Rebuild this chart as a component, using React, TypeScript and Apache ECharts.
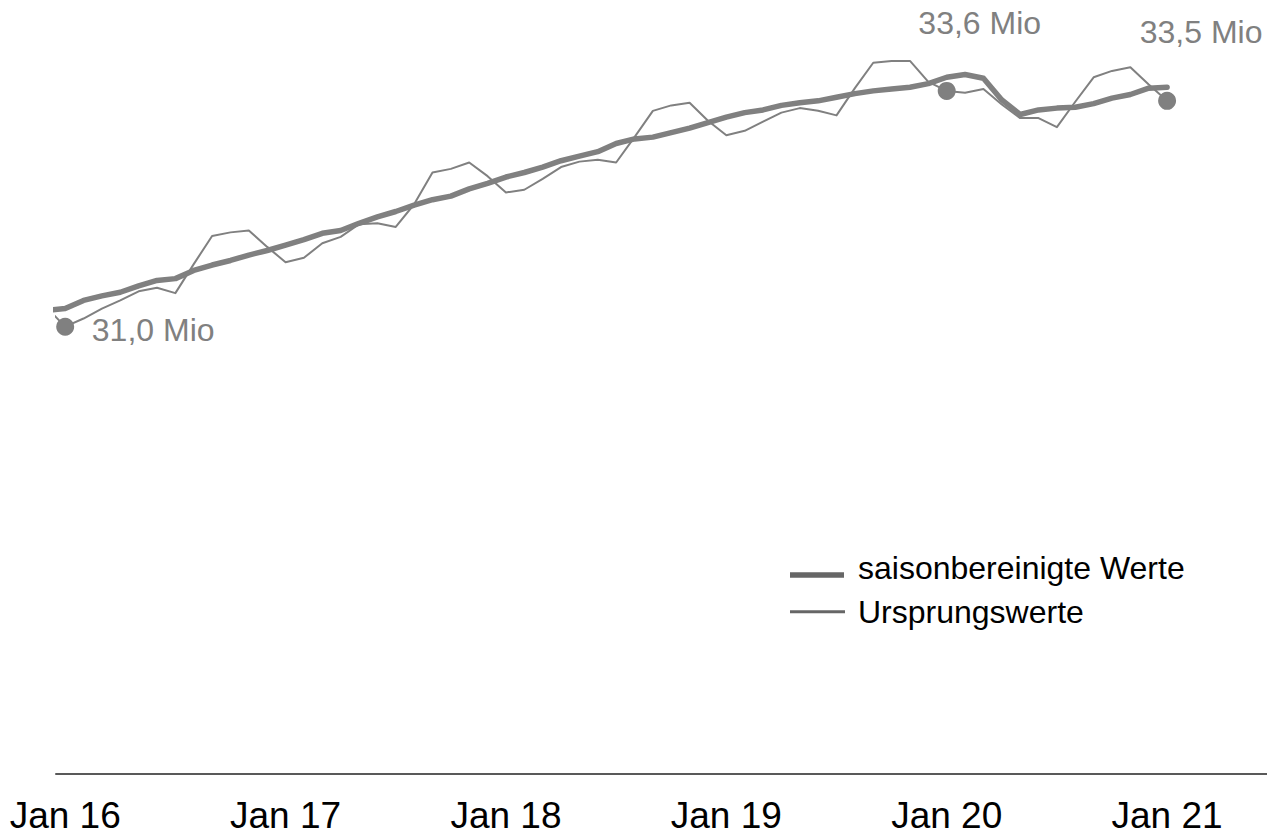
import React, { useEffect, useRef } from "react";
import * as echarts from "echarts";

// Monthly values, Dez 15 .. Jan 21 (Mio)
const monthNames = ["Jan", "Feb", "Mrz", "Apr", "Mai", "Jun", "Jul", "Aug", "Sep", "Okt", "Nov", "Dez"];
const categories: string[] = ["Dez 15"];
for (let y = 16; y <= 21; y++) {
  for (let m = 0; m < 12; m++) {
    if (y === 21 && m > 0) break;
    categories.push(monthNames[m] + " " + y);
  }
}

const saisonbereinigt = [
  31.18,
  31.2, 31.29, 31.34, 31.38, 31.45, 31.51, 31.53, 31.62, 31.68, 31.73, 31.79, 31.84,
  31.9, 31.96, 32.03, 32.06, 32.14, 32.21, 32.27, 32.34, 32.4, 32.44, 32.52, 32.58,
  32.65, 32.7, 32.76, 32.83, 32.88, 32.93, 33.02, 33.07, 33.09, 33.14, 33.19, 33.25,
  33.31, 33.36, 33.39, 33.44, 33.47, 33.49, 33.53, 33.57, 33.6, 33.62, 33.64, 33.68,
  33.75, 33.78, 33.74, 33.5, 33.34, 33.39, 33.41, 33.42, 33.46, 33.52, 33.56, 33.63,
  33.64,
];

const ursprungswerte = [
  31.21,
  31.0, 31.09, 31.2, 31.29, 31.39, 31.43, 31.37, 31.69, 32.0, 32.04, 32.06, 31.88,
  31.71, 31.76, 31.92, 31.99, 32.13, 32.14, 32.1, 32.35, 32.7, 32.74, 32.81, 32.66,
  32.48, 32.51, 32.63, 32.76, 32.82, 32.84, 32.81, 33.09, 33.38, 33.44, 33.47, 33.27,
  33.11, 33.16, 33.26, 33.36, 33.41, 33.38, 33.33, 33.63, 33.91, 33.93, 33.93, 33.7,
  33.6, 33.58, 33.62, 33.45, 33.3, 33.3, 33.2, 33.48, 33.75, 33.82, 33.86, 33.67,
  33.49,
];

// labelled points of the Ursprungswerte series: category, label offset
const labelledPoints = [
  { category: "Jan 16", offset: [88, 3.5] },
  { category: "Jan 20", offset: [33, -67.5] },
  { category: "Jan 21", offset: [34, -68.5] },
];

const tickLabels = ["Jan 16", "Jan 17", "Jan 18", "Jan 19", "Jan 20", "Jan 21"];
const legendNames = ["saisonbereinigte Werte", "Ursprungswerte"];

const FONT = "'Liberation Sans', Arial, Helvetica, sans-serif";
const LINE_COLOR = "#808080";

export default function App() {
  const ref = useRef<HTMLDivElement>(null);

  useEffect(() => {
    if (!ref.current) return;
    const chart = echarts.init(ref.current, undefined, { renderer: "svg" });

    // x position: month index relative to Jan 16 (Dez 15 = -1)
    const xOf = (i: number) => i - 1;
    const fmt = (v: number) => v.toFixed(1).replace(".", ",") + " Mio";

    const thickData = saisonbereinigt.map((v, i) => [xOf(i), v]);
    const thinData = ursprungswerte.map((v, i) => {
      const lp = labelledPoints.find((p) => p.category === categories[i]);
      if (!lp) return { value: [xOf(i), v] };
      return {
        value: [xOf(i), v],
        symbol: "circle",
        symbolSize: 18,
        itemStyle: { color: LINE_COLOR },
        label: {
          show: true,
          position: "inside",
          offset: lp.offset,
          formatter: fmt(v),
          fontSize: 32,
          fontFamily: FONT,
          color: LINE_COLOR,
        },
      };
    });

    const tickValues = tickLabels.map((t) => xOf(categories.indexOf(t)));

    chart.setOption({
      animation: false,
      backgroundColor: "#ffffff",
      grid: { left: 56, right: 0, top: 0, bottom: 61.7, containLabel: false },
      xAxis: {
        type: "value",
        min: -0.5,
        max: 65.44,
        axisLine: { show: true, lineStyle: { color: "#595959", width: 2 } },
        axisTick: { show: false },
        splitLine: { show: false },
        axisLabel: {
          customValues: tickValues,
          formatter: (val: number) => {
            const idx = Math.round(val) + 1;
            return categories[idx] ?? "";
          },
          fontSize: 37,
          fontFamily: FONT,
          color: "#000000",
          margin: 24,
        },
      },
      yAxis: {
        type: "value",
        min: 26.076,
        max: 34.602,
        show: false,
      },
      series: [
        {
          name: legendNames[1],
          type: "line",
          data: thinData,
          symbol: "none",
          showSymbol: true,
          showAllSymbol: true,
          clip: true,
          lineStyle: { color: LINE_COLOR, width: 2, join: "round" },
          itemStyle: { color: LINE_COLOR },
          z: 2,
        },
        {
          name: legendNames[0],
          type: "line",
          data: thickData,
          symbol: "none",
          showSymbol: false,
          clip: true,
          lineStyle: { color: LINE_COLOR, width: 5.5, cap: "round", join: "round" },
          itemStyle: { color: LINE_COLOR },
          z: 3,
        },
      ],
      graphic: [
        {
          type: "line",
          shape: { x1: 790, y1: 575, x2: 844, y2: 575 },
          style: { stroke: "#666666", lineWidth: 5.5 },
        },
        {
          type: "text",
          x: 858,
          y: 568,
          style: {
            text: legendNames[0],
            font: "32px " + FONT,
            fill: "#000000",
            verticalAlign: "middle",
            align: "left",
          },
        },
        {
          type: "line",
          shape: { x1: 790, y1: 611.7, x2: 845, y2: 611.7 },
          style: { stroke: "#666666", lineWidth: 3 },
        },
        {
          type: "text",
          x: 858,
          y: 612,
          style: {
            text: legendNames[1],
            font: "32px " + FONT,
            fill: "#000000",
            verticalAlign: "middle",
            align: "left",
          },
        },
      ],
    });

    return () => chart.dispose();
  }, []);

  return (
    <div
      ref={ref}
      style={{ position: "absolute", left: 0, top: 0, width: 1267, height: 835 }}
    />
  );
}
